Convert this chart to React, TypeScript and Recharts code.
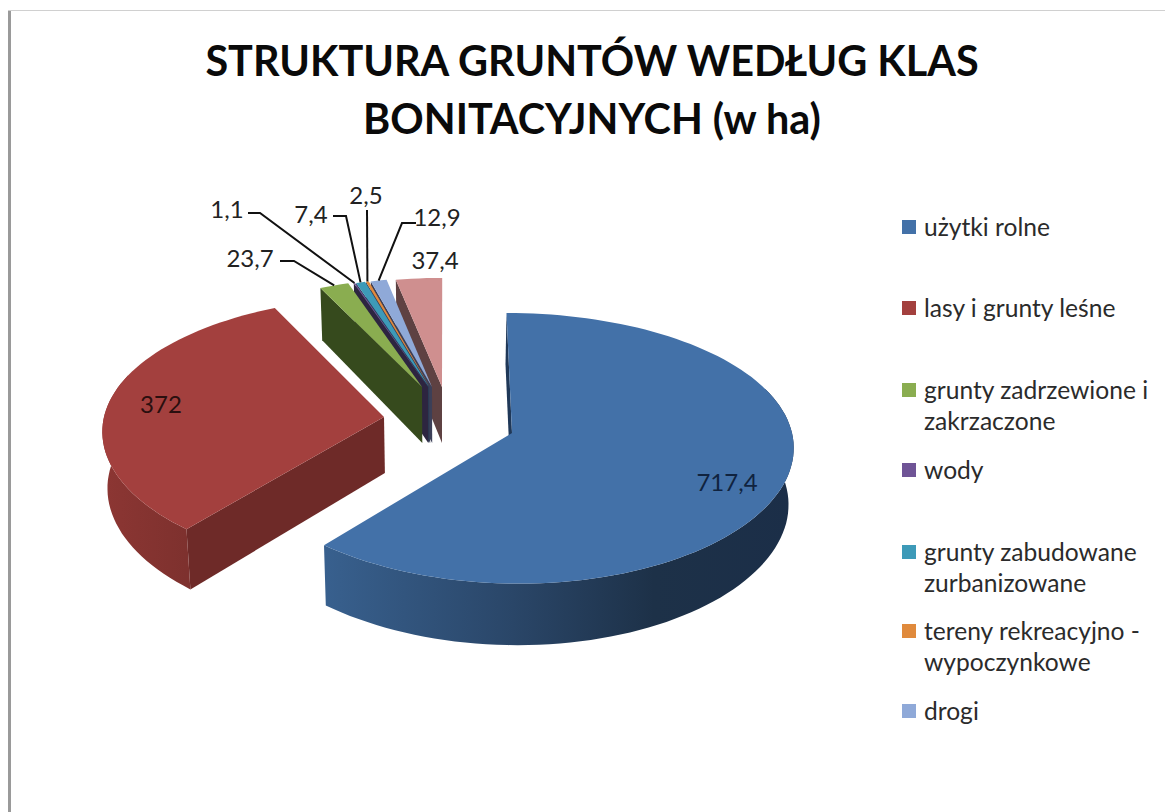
import React from 'react';
import { PieChart, Pie, Legend } from 'recharts';

const FONT = 'Lato, "Open Sans", sans-serif';

const titleLines = ['STRUKTURA GRUNTÓW WEDŁUG KLAS', 'BONITACYJNYCH (w ha)'];

const categories = [
  'użytki rolne',
  'lasy i grunty leśne',
  'grunty zadrzewione i zakrzaczone',
  'wody',
  'grunty zabudowane zurbanizowane',
  'tereny rekreacyjno - wypoczynkowe',
  'drogi',
  'pozostałe',
];
const values = [717.4, 372, 23.7, 1.1, 7.4, 2.5, 12.9, 37.4];
const valueLabels = ['717,4', '372', '23,7', '1,1', '7,4', '2,5', '12,9', '37,4'];

// legend rows, the last slice has no entry in the original
const legendLines = [
  ['użytki rolne'],
  ['lasy i grunty leśne'],
  ['grunty zadrzewione i', 'zakrzaczone'],
  ['wody'],
  ['grunty zabudowane', 'zurbanizowane'],
  ['tereny rekreacyjno -', 'wypoczynkowe'],
  ['drogi'],
];
const legendTops = [211, 292, 374, 454, 536, 615, 695];

const topColors = ['#4371a8', '#a3403e', '#8aad50', '#6f5496', '#3d9ab8', '#e08a3c', '#8fa9d8', '#cf8f8f'];
const sideColors = ['#1f3858', '#6e2a28', '#364a1d', '#2d2540', '#2a3c55', '#3a3f58', '#3c3f58', '#5e4142'];
const rimColors = ['url(#blueRim)', 'url(#redRim)', '#4d6226', '#3d2f55', '#235f72', '#8a5220', '#4f6385', '#7d5555'];

// how far each slice is pulled out of the pie on screen, and how much it shrinks going back
const explode = [
  [0, 0],
  [-128, -16],
  [-90, -46],
  [-84, -46],
  [-83, -46],
  [-82, -46],
  [-80, -46],
  [-70, -46],
];
const shrink = [1, 1, 0.9, 0.9, 0.9, 0.9, 0.9, 0.9];

// text centre of each value label, and the elbow of its leader line (if any)
const labelCentres = [
  [727, 481],
  [161, 403],
  [250, 257],
  [227, 208],
  [311, 213],
  [366, 194],
  [437, 216],
  [435, 259],
];
const leaders: (number[][] | null)[] = [
  null,
  null,
  [[280, 261], [294, 261]],
  [[248, 213], [260, 213]],
  [[333, 216], [346, 216]],
  [[367, 210]],
  [[416, 223], [402, 223]],
  null,
];

const tableData = categories.map((name, i) => ({ name, value: values[i], fill: topColors[i] }));
// same slices backwards, drawn counter-clockwise, so nearer walls paint last
const wallData = [...tableData].reverse();

const CX = 512;
const CY = 433;
const R = 280;
const Y_SCALE = 133.6;
const Y_PERSP = 0.113;
const X_PERSP = 0.09;
const VANISH_X = 445;
const DEPTH = 56;

// pie plane -> screen, theta in degrees clockwise from the top
function project(ax: number, ay: number, theta: number, r: number, drop = 0) {
  const rad = (theta * Math.PI) / 180;
  const u = Math.sin(rad) * r;
  const v = -Math.cos(rad) * r;
  const f = 1 / (1 - X_PERSP * v);
  const x = VANISH_X + (ax + R * u - VANISH_X) * f * (1 - (0.015 * drop) / DEPTH);
  const y = ay + (Y_SCALE * v) / (1 - Y_PERSP * v) + drop * f;
  return [x, y];
}

const toPath = (pts: number[][]) =>
  'M' + pts.map((p) => `${p[0].toFixed(1)},${p[1].toFixed(1)}`).join('L') + 'Z';

function arcAngles(t0: number, t1: number) {
  const out: number[] = [];
  const n = Math.max(2, Math.ceil((t1 - t0) / 2));
  for (let i = 0; i <= n; i++) out.push(t0 + ((t1 - t0) * i) / n);
  return out;
}

function sliceInfo(props: any) {
  const i = categories.indexOf(props.name ?? props.payload?.name);
  const a = 90 - props.startAngle;
  const b = 90 - props.endAngle;
  let t0 = Math.min(a, b);
  let t1 = Math.max(a, b);
  if (t0 < -1e-6) {
    t0 += 360;
    t1 += 360;
  }
  return {
    i,
    t0,
    t1,
    r: shrink[i],
    ax: props.cx + explode[i][0],
    ay: props.cy + explode[i][1],
  };
}

function WallShape(props: any) {
  const { i, t0, t1, r, ax, ay } = sliceInfo(props);
  const walls: React.ReactNode[] = [];
  const quad = (t: number, key: string) => {
    const a = project(ax, ay, t, 0);
    const b = project(ax, ay, t, r);
    const c = project(ax, ay, t, r, DEPTH);
    const d = project(ax, ay, t, 0, DEPTH);
    walls.push(<path key={key} d={toPath([a, b, c, d])} fill={sideColors[i]} />);
  };
  if (Math.sin((t0 * Math.PI) / 180) <= 1e-6) quad(t0, 'start');
  if (Math.sin((t1 * Math.PI) / 180) > 1e-6) quad(t1, 'end');

  const front = arcAngles(t0, t1).filter((t) => Math.cos((t * Math.PI) / 180) < 0.35);
  if (front.length > 1) {
    const upper = front.map((t) => project(ax, ay, t, r));
    const lower = front.map((t) => project(ax, ay, t, r, DEPTH)).reverse();
    walls.push(<path key="rim" d={toPath([...upper, ...lower])} fill={rimColors[i]} />);
  }
  return <g>{walls}</g>;
}

function TopShape(props: any) {
  const { i, t0, t1, r, ax, ay } = sliceInfo(props);
  const pts = [project(ax, ay, t0, 0), ...arcAngles(t0, t1).map((t) => project(ax, ay, t, r))];
  return <path d={toPath(pts)} fill={topColors[i]} />;
}

function ValueLabel(props: any) {
  const { i, t0, t1, r, ax, ay } = sliceInfo(props);
  const [tx, ty] = labelCentres[i];
  const elbow = leaders[i];
  const tip = project(ax, ay, (t0 + t1) / 2, r);
  return (
    <g>
      {elbow && (
        <polyline
          points={[...elbow, tip].map((p) => p.join(',')).join(' ')}
          fill="none"
          stroke="#111"
          strokeWidth={2}
        />
      )}
      <text
        x={tx}
        y={ty}
        textAnchor="middle"
        dominantBaseline="central"
        fontFamily={FONT}
        fontSize={24}
        fill={i === 0 ? '#10233f' : i === 1 ? '#2a0f0f' : '#222'}
      >
        {valueLabels[i]}
      </text>
    </g>
  );
}

function LegendBlock() {
  return (
    <div style={{ position: 'relative', width: 1165, height: 812, fontFamily: FONT, fontSize: 24.6, color: '#2b2b2b' }}>
      {legendLines.map((lines, i) => (
        <div key={i} style={{ position: 'absolute', left: 902, top: legendTops[i], lineHeight: '31px' }}>
          <span
            style={{
              position: 'absolute',
              left: 0,
              top: 9,
              width: 14,
              height: 14,
              background: topColors[i],
            }}
          />
          {lines.map((line) => (
            <div key={line} style={{ marginLeft: 22, whiteSpace: 'nowrap' }}>
              {line}
            </div>
          ))}
        </div>
      ))}
    </div>
  );
}

export default function App() {
  return (
    <div style={{ position: 'absolute', left: 0, top: 0, width: 1165, height: 812, background: '#fff', overflow: 'hidden' }}>
      <div style={{ position: 'absolute', left: 8, top: 10, width: 3, height: 802, background: '#9a9a9a' }} />
      <div style={{ position: 'absolute', left: 8, top: 10, width: 1157, height: 1, background: '#d0d0d0' }} />
      <div
        style={{
          position: 'absolute',
          left: 0,
          top: 31,
          width: 1184,
          textAlign: 'center',
          fontFamily: FONT,
          fontWeight: 700,
          fontSize: 41.4,
          lineHeight: '58px',
          color: '#0a0a0a',
        }}
      >
        {titleLines.map((line) => (
          <div key={line}>{line}</div>
        ))}
      </div>
      <PieChart width={1165} height={812} margin={{ top: 0, right: 0, bottom: 0, left: 0 }} style={{ position: 'absolute', left: 0, top: 0 }}>
        <defs>
          <linearGradient id="blueRim" gradientUnits="userSpaceOnUse" x1={325} y1={0} x2={795} y2={0}>
            <stop offset="0" stopColor="#38608e" />
            <stop offset="0.4" stopColor="#2a4668" />
            <stop offset="0.7" stopColor="#1d3148" />
            <stop offset="1" stopColor="#1b2e48" />
          </linearGradient>
          <linearGradient id="redRim" gradientUnits="userSpaceOnUse" x1={104} y1={0} x2={186} y2={0}>
            <stop offset="0" stopColor="#8c3633" />
            <stop offset="1" stopColor="#7e312e" />
          </linearGradient>
        </defs>
        <Legend content={<LegendBlock />} wrapperStyle={{ left: 0, top: 0, width: 1165, height: 812, pointerEvents: 'none' }} />
        <Pie
          data={wallData}
          dataKey="value"
          nameKey="name"
          cx={CX}
          cy={CY}
          outerRadius={R}
          startAngle={90}
          endAngle={450}
          shape={WallShape}
          isAnimationActive={false}
          legendType="none"
        />
        <Pie
          data={tableData}
          dataKey="value"
          nameKey="name"
          cx={CX}
          cy={CY}
          outerRadius={R}
          startAngle={90}
          endAngle={-270}
          shape={TopShape}
          label={ValueLabel}
          labelLine={false}
          isAnimationActive={false}
          legendType="none"
        />
      </PieChart>
    </div>
  );
}
